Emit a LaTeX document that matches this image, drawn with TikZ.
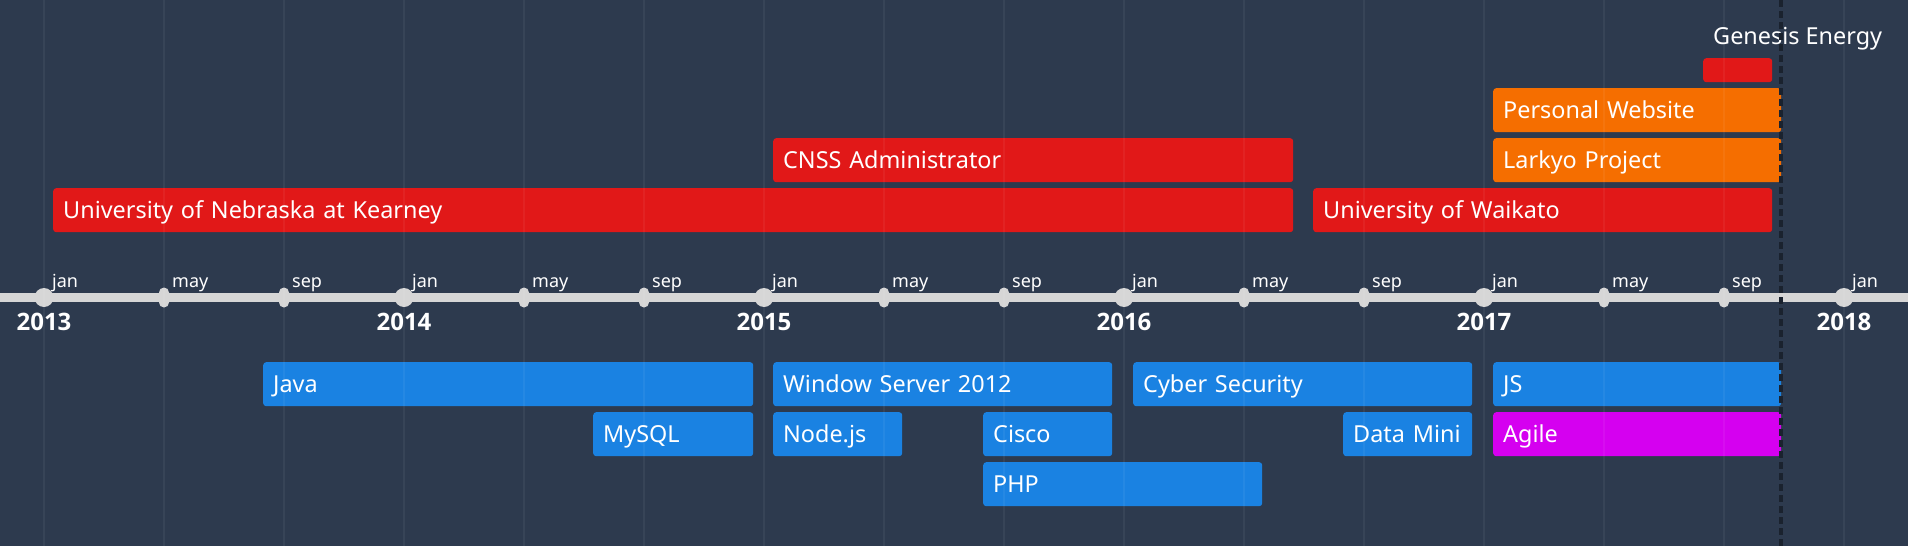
\documentclass[tikz,border=0pt]{standalone}
\usepackage{fontspec}
\setmainfont{Noto Sans}
\newfontfamily\yrfont{Open Sans}
\definecolor{bg}{HTML}{2D3A4E}
\definecolor{axisgray}{HTML}{D6D6D6}
\definecolor{barred}{HTML}{E11818}
\definecolor{barorange}{HTML}{F56E00}
\definecolor{barblue}{HTML}{1A82E2}
\definecolor{barmagenta}{HTML}{D500F0}
\definecolor{nowdark}{HTML}{1A222E}
\newcommand{\tlbar}[6]{%
  \pgfmathsetmacro\tlw{#3-#2}%
  \pgfmathsetmacro\tltw{#3-#2-20}%
  \node[barbox, fill=#5, minimum width=\tlw pt, text width=\tltw pt] (#1) at (#2,#4) {\mbox{#6}};%
}
\begin{document}
\begin{tikzpicture}[x=1pt,y=-1pt,
  barbox/.style={draw=none, rounded corners=3pt, minimum height=44pt, inner xsep=10pt, inner ysep=0pt,
    anchor=north west, font=\fontsize{23.4}{24}\selectfont, text=white, align=left,
    text height=18pt, text depth=2pt},
  monthlbl/.style={anchor=base west, inner sep=0pt, text=white, font=\fontsize{18}{18}\selectfont},
  yearlbl/.style={anchor=base, inner sep=0pt, text=white, font=\yrfont\fontsize{24}{24}\selectfont\bfseries},
  yeardot/.style={circle, fill=axisgray, minimum size=19pt, inner sep=0pt},
  monthtick/.style={rectangle, rounded corners=5pt, fill=axisgray, minimum width=10pt, minimum height=20pt, inner sep=0pt},
  gridline/.style={white, opacity=0.05, line width=1.6pt},
  nowline/.style={nowdark, line width=3.2pt, dash pattern=on 7pt off 4pt},
  axisline/.style={axisgray, line width=9pt}]
\useasboundingbox (0,0) rectangle (1908,546);
\fill[bg] (0,0) rectangle (1908,546);
% axis
\coordinate (axl) at (0,297.5);
\coordinate (axr) at (1908,297.5);
\draw[axisline] (axl) -- (axr);
% ticks and labels
\foreach \i in {0,...,4} {
  \pgfmathtruncatemacro\yr{2013+\i}
  \pgfmathsetmacro\xj{44+360*\i}
  \pgfmathsetmacro\xm{164+360*\i}
  \pgfmathsetmacro\xs{284+360*\i}
  \node[yeardot] (dot\yr) at (\xj,297.5) {};
  \node[monthtick] (tmay\yr) at (\xm,297.5) {};
  \node[monthtick] (tsep\yr) at (\xs,297.5) {};
  \node[monthlbl] (ljan\yr) at (\xj+8,287) {jan};
  \node[monthlbl] (lmay\yr) at (\xm+8,287) {may};
  \node[monthlbl] (lsep\yr) at (\xs+8,287) {sep};
  \node[yearlbl] (y\yr) at (\xj,330) {\yr};
}
\node[yeardot] (dot2018) at (1844,297.5) {};
\node[monthlbl] (ljan2018) at (1852,287) {jan};
\node[yearlbl] (y2018) at (1844,330) {2018};
% top bars
\tlbar{unk}{53}{1293}{188}{barred}{University of Nebraska at Kearney}
\tlbar{cnss}{773}{1293}{138}{barred}{CNSS Administrator}
\tlbar{uow}{1313}{1772}{188}{barred}{University of Waikato}
\tlbar{larkyo}{1493}{1781}{138}{barorange}{Larkyo Project}
\tlbar{website}{1493}{1781}{88}{barorange}{Personal Website}
\node[draw=none, fill=barred, rounded corners=3pt, anchor=north west, minimum width=69pt, minimum height=24pt, inner sep=0pt] (genesis) at (1703,58) {};
\node[anchor=base west, inner sep=0pt, text=white, font=\fontsize{23.4}{24}\selectfont] (genlbl) at (1713,44) {Genesis Energy};
% bottom bars
\tlbar{java}{263}{753}{362}{barblue}{Java}
\tlbar{mysql}{593}{753}{412}{barblue}{MySQL}
\tlbar{winserver}{773}{1112}{362}{barblue}{Window Server 2012}
\tlbar{nodejs}{773}{902}{412}{barblue}{Node.js}
\tlbar{cisco}{983}{1112}{412}{barblue}{Cisco}
\tlbar{php}{983}{1262}{462}{barblue}{PHP}
\tlbar{cyber}{1133}{1472}{362}{barblue}{Cyber Security}
\tlbar{datamining}{1343}{1472}{412}{barblue}{Data Mini}
\tlbar{js}{1493}{1781}{362}{barblue}{JS}
\tlbar{agile}{1493}{1781}{412}{barmagenta}{Agile}
% grid lines
\foreach \k in {0,...,15} {
  \coordinate (gt\k) at (44+120*\k,0);
  \coordinate (gb\k) at (44+120*\k,546);
  \draw[gridline] (gt\k) -- (gb\k);
}
% now line
\coordinate (nowtop) at (1781,0);
\coordinate (nowbot) at (1781,546);
\draw[nowline] (nowtop) -- (nowbot);
\end{tikzpicture}
\end{document}
